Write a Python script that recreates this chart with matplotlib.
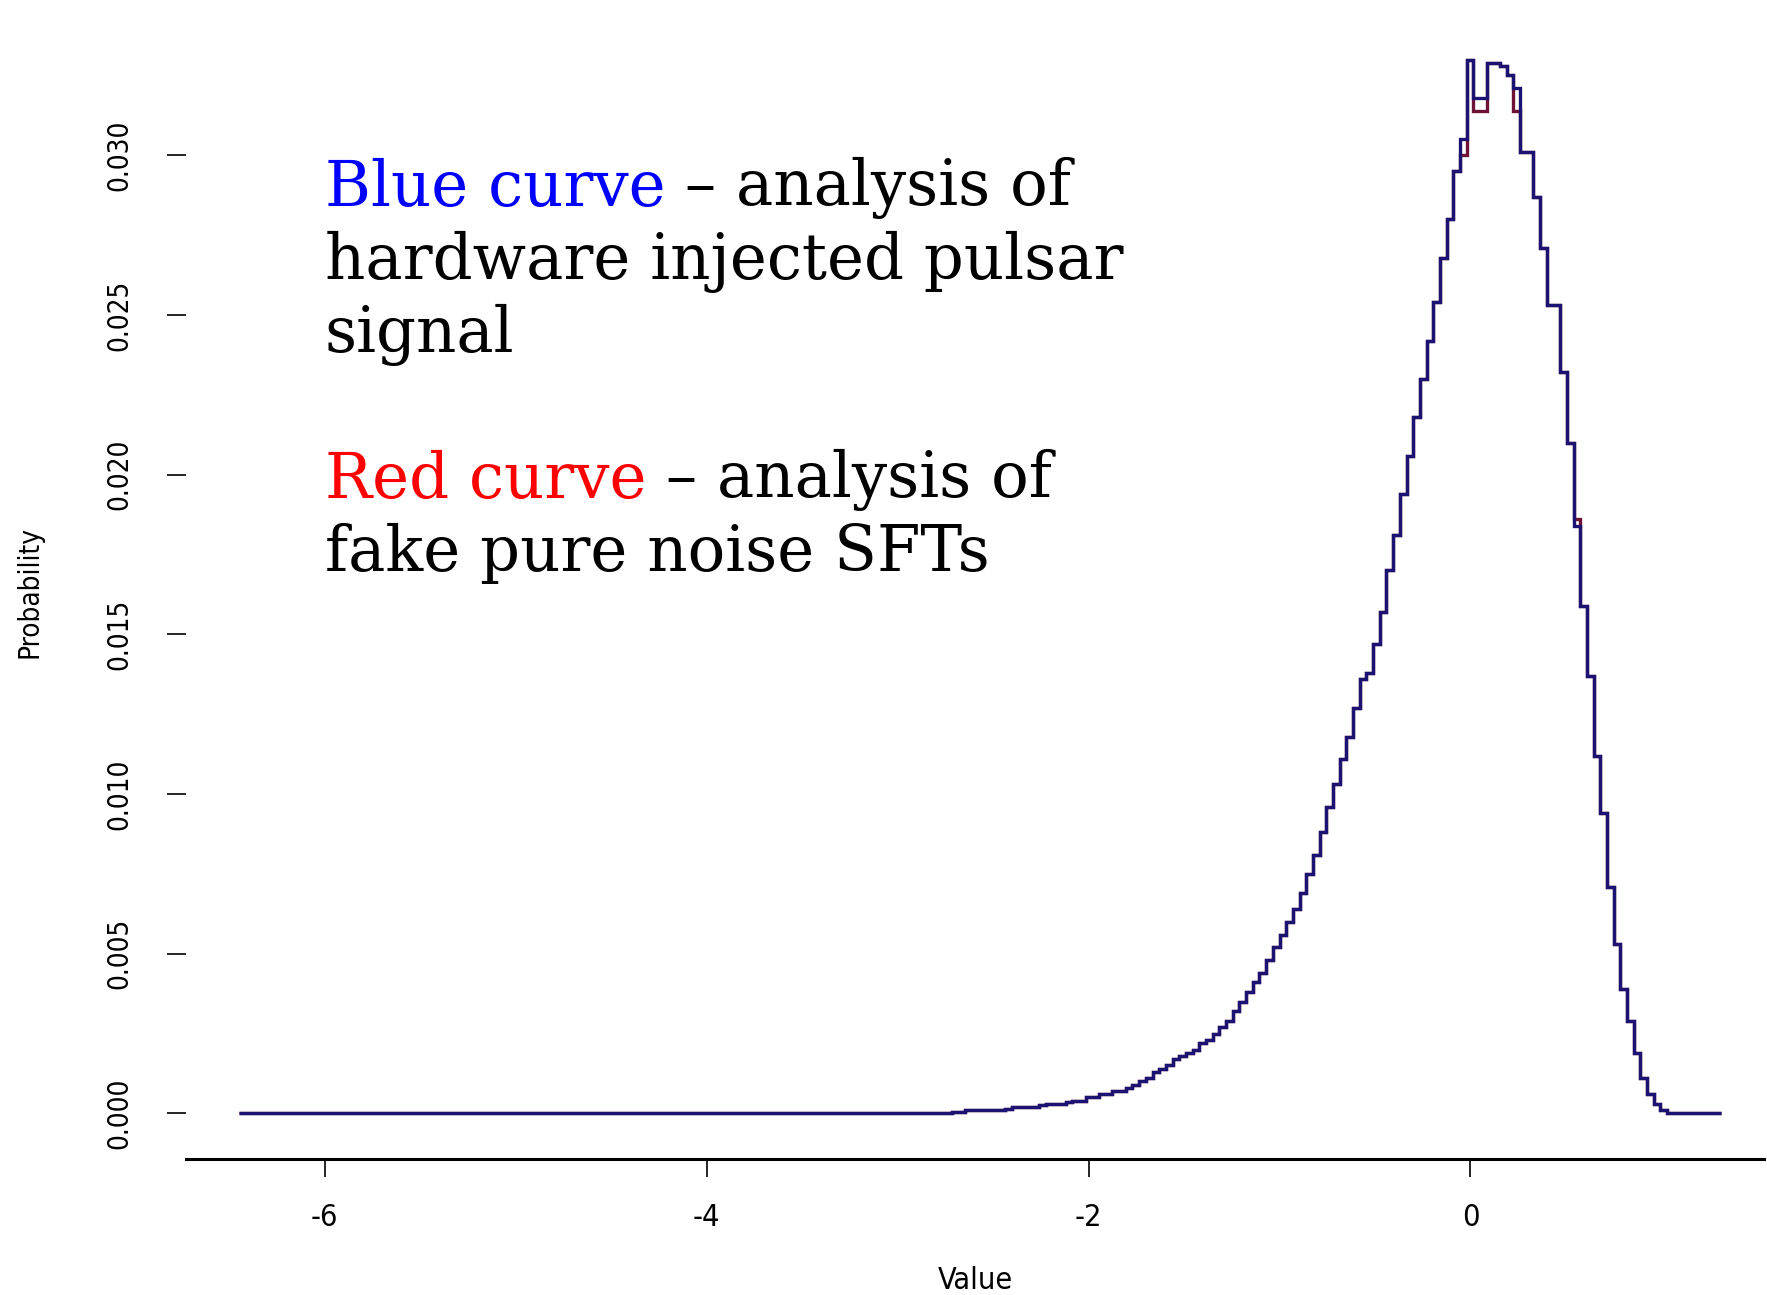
import matplotlib
matplotlib.use('Agg')
import matplotlib.pyplot as plt
import numpy as np

plt.rcParams['axes.unicode_minus'] = False

# histogram data (density per bin)
tail_start = -6.45          # flat zero part starts here
bin_start = -2.715
bin_width = 0.035
blue_density = [
    0.00005, 0.00005, 0.0001, 0.0001, 0.0001, 0.0001, 0.0001, 0.0001, 0.00015, 0.0002,
    0.0002, 0.0002, 0.0002, 0.00025, 0.0003, 0.0003, 0.0003, 0.00035, 0.0004, 0.0004,
    0.0005, 0.0005, 0.0006, 0.0006, 0.0007, 0.0007, 0.0008, 0.0009, 0.0010, 0.0011,
    0.0013, 0.0014, 0.0015, 0.0017, 0.0018, 0.0019, 0.0020, 0.0022, 0.0023, 0.0025,
    0.0027, 0.0029, 0.0032, 0.0035, 0.0038, 0.0041, 0.0044, 0.0048, 0.0052, 0.0056,
    0.0060, 0.0064, 0.0069, 0.0075, 0.0081, 0.0088, 0.0096, 0.0103, 0.0111, 0.0118,
    0.0127, 0.0136, 0.0138, 0.0147, 0.0157, 0.0170, 0.0181, 0.0194, 0.0206, 0.0218,
    0.0230, 0.0242, 0.0254, 0.0268, 0.0280, 0.0295, 0.0305, 0.0330, 0.0318, 0.0318,
    0.0329, 0.0329, 0.0328, 0.0325, 0.0321, 0.0301, 0.0301, 0.0287, 0.0271, 0.0253,
    0.0253, 0.0232, 0.0210, 0.0184, 0.0159, 0.0137, 0.0112, 0.0094, 0.0071, 0.0053,
    0.0039, 0.0029, 0.0019, 0.0011, 0.0006, 0.0003, 0.0001, 0.0, 0.0, 0.0,
    0.0, 0.0, 0.0, 0.0, 0.0,
]
# red curve: same as blue except these bins
red_diff_bins = [76, 78, 79, 84, 93]
red_diff_vals = [0.0300, 0.0314, 0.0314, 0.0314, 0.0186]

xticks = [-6, -4, -2, 0]
yticks = [0.000, 0.005, 0.010, 0.015, 0.020, 0.025, 0.030]

red_density = list(blue_density)
for i, v in zip(red_diff_bins, red_diff_vals):
    red_density[i] = v

edges = np.concatenate([[tail_start],
                        np.round(bin_start + bin_width * np.arange(len(blue_density) + 1), 3)])
blue_vals = np.concatenate([[0.0], blue_density])
red_vals = np.concatenate([[0.0], red_density])

W, H = 1767, 1295
fig = plt.figure(figsize=(W / 100, H / 100), dpi=100)
ax = fig.add_axes([186 / W, (H - 1158.6) / H, (1764 - 186) / W, (1158.6 - 18) / H])

ax.stairs(red_vals, edges, baseline=None, color='#6e1236', linewidth=2.4)
ax.stairs(blue_vals, edges, baseline=None, color='#1b1272', linewidth=2.4)

ax.set_xlim(-6.726, 1.537)
ax.set_ylim(-0.001416, 0.0343)

for s in ['top', 'right', 'left']:
    ax.spines[s].set_visible(False)
ax.spines['bottom'].set_linewidth(2.2)

tick_font = dict(family='DejaVu Sans', stretch='condensed')
ax.set_xticks(xticks)
ax.set_xticklabels([str(t) for t in xticks], fontsize=22, **tick_font)
ax.set_yticks(yticks)
ax.set_yticklabels(['%.3f' % t for t in yticks], rotation=90, va='center', fontsize=20, **tick_font)
ax.tick_params(axis='x', length=13, width=1.2, pad=19, color='black')
ax.tick_params(axis='y', length=14, width=1.2, pad=24, color='black')

ax.set_xlabel('Value', fontsize=22, va='center', **tick_font)
ax.xaxis.set_label_coords(0.5, -0.1073)
ax.set_ylabel('Probability', fontsize=20, va='center', **tick_font)
ax.yaxis.set_label_coords(-0.0989, 0.497)

# annotation text block
def text_line(parts, x, ybase):
    t = fig.text(x / W, 1 - ybase / H, parts[0][0], color=parts[0][1],
                 fontsize=45, family='DejaVu Serif', va='baseline')
    for s, c in parts[1:]:
        t = ax.annotate(s, xy=(1, 0), xycoords=t, va='bottom', ha='left',
                        color=c, fontsize=45, family='DejaVu Serif',
                        annotation_clip=False)

tx = 324.6
text_line([('Blue curve', '#0000ff'), (' \u2013 analysis of', 'black')], tx, 206)
text_line([('hardware injected pulsar', 'black')], tx, 279)
text_line([('signal', 'black')], tx, 352)
text_line([('Red curve', '#ff0000'), (' \u2013 analysis of', 'black')], tx, 498)
text_line([('fake pure noise SFTs', 'black')], tx, 571)

fig.savefig('out.png', dpi=100, facecolor='white')
